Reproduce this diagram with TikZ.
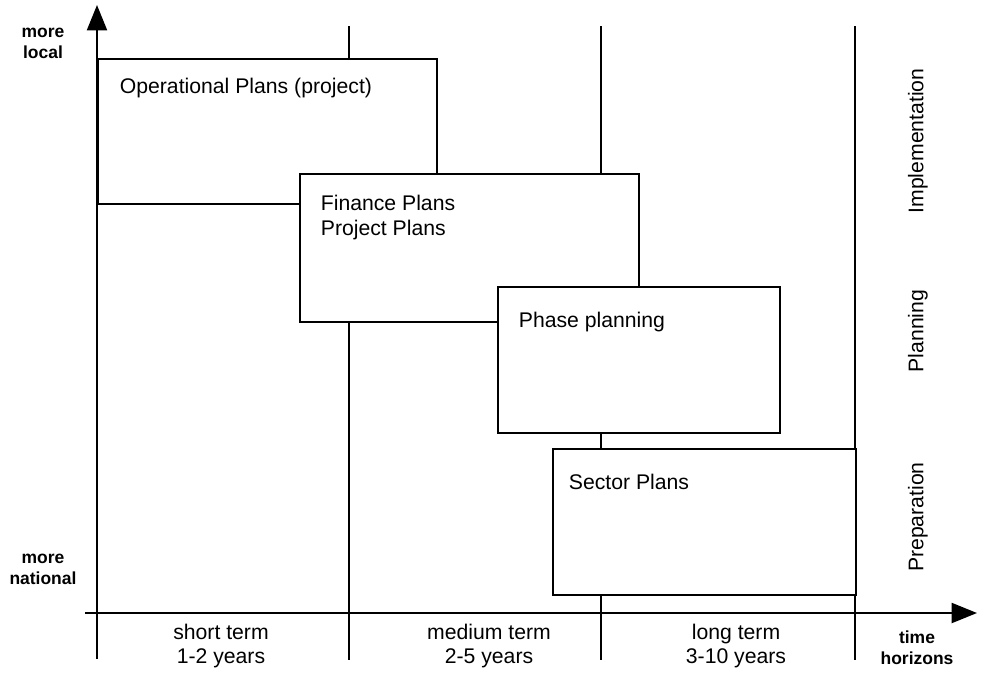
\documentclass[tikz,border=0pt]{standalone}
\usepackage{fontspec}
\setmainfont{Liberation Sans}
\usetikzlibrary{arrows.meta}
\begin{document}
\begin{tikzpicture}[x=0.75pt,y=-0.75pt,
  line width=1.3pt,
  grid/.style={line width=1.3pt},
  axis/.style={line width=1.5pt,-{Triangle[length=19pt,width=15pt]}},
  plan/.style={draw,fill=white,rectangle,line width=1.3pt,anchor=north west,inner sep=0pt},
  plantext/.style={anchor=west,inner sep=0pt,font=\fontsize{15.9}{18.8}\selectfont,align=left},
  termtext/.style={inner sep=0pt,font=\fontsize{15.9}{18.6}\selectfont,align=center},
  endtext/.style={inner sep=0pt,font=\bfseries\fontsize{13.1}{15.8}\selectfont,align=center},
  phasetext/.style={inner sep=0pt,rotate=90,font=\fontsize{15.9}{18.8}\selectfont}]
\useasboundingbox (0,0) rectangle (985,672);

% vertical dividers between the time horizons
\coordinate (g1t) at (349,26);  \coordinate (g1b) at (349,660);
\coordinate (g2t) at (601,26);  \coordinate (g2b) at (601,660);
\coordinate (g3t) at (855,26);  \coordinate (g3b) at (855,660);
\draw[grid] (g1t) -- (g1b);
\draw[grid] (g2t) -- (g2b);
\draw[grid] (g3t) -- (g3b);

% planning levels, each one laid over the previous
\node[plan,minimum width={339*0.75pt},minimum height={145*0.75pt}] (op) at (97,58) {};
\node[plan,minimum width={339*0.75pt},minimum height={148*0.75pt}] (fin) at (299,173) {};
\node[plan,minimum width={282*0.75pt},minimum height={146*0.75pt}] (phase) at (497,286) {};
\node[plan,minimum width={303*0.75pt},minimum height={146*0.75pt}] (sector) at (552,448) {};

\node[plantext] (optxt) at (119,88) {Operational Plans (project)};
\node[plantext,anchor=north west] (fintxt) at (320,194) {Finance Plans\\Project Plans};
\node[plantext] (phasetxt) at (518,322) {Phase planning};
\node[plantext] (sectortxt) at (568,482) {Sector Plans};

% axes
\coordinate (yb) at (97,659);  \coordinate (yt) at (97,5);
\coordinate (xl) at (85,613);  \coordinate (xr) at (977,613);
\draw[axis] (yb) -- (yt);
\draw[axis] (xl) -- (xr);

% axis end labels
\node[endtext] (local) at (43,43) {more\\local};
\node[endtext] (national) at (43,569) {more\\national};
\node[endtext] (horizon) at (917,648) {time\\horizons};

% time horizons
\node[termtext] (short) at (221,646) {short term\\1-2 years};
\node[termtext] (medium) at (489,646) {medium term\\2-5 years};
\node[termtext] (long) at (736,646) {long term\\3-10 years};

% phases
\node[phasetext] (impl) at (918,141) {Implementation};
\node[phasetext] (plng) at (918,331) {Planning};
\node[phasetext] (prep) at (918,517) {Preparation};
\end{tikzpicture}
\end{document}
